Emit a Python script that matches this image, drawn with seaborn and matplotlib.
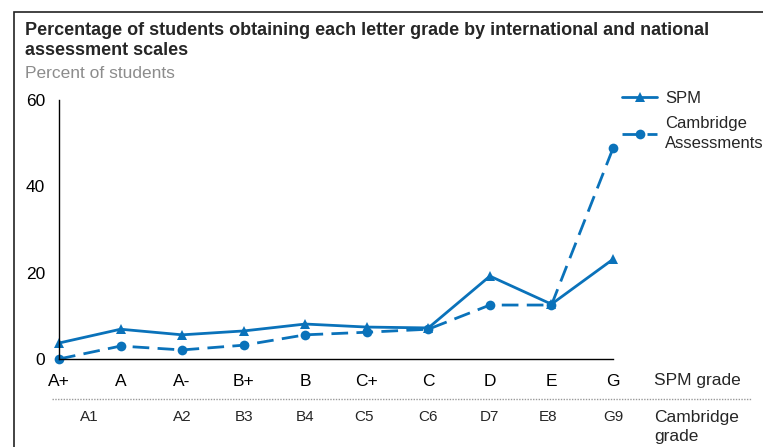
import numpy as np
import pandas as pd
import matplotlib
matplotlib.use("Agg")
import matplotlib.pyplot as plt
import seaborn as sns
from matplotlib.patches import Rectangle

# data
spm_grades = ["A+", "A", "A-", "B+", "B", "C+", "C", "D", "E", "G"]
cambridge_grades = ["A1", "A2", "B3", "B4", "C5", "C6", "D7", "E8", "G9"]
cambridge_label_pos = [0.5, 2, 3, 4, 4.95, 6, 7, 7.95, 9]
spm_pct = [3.7, 6.9, 5.6, 6.5, 8.1, 7.4, 7.2, 19.2, 12.7, 23.1]
cambridge_pct = [0.0, 3.0, 2.1, 3.2, 5.6, 6.2, 6.9, 12.5, 12.5, 48.8]

color = "#0A72BA"

sns.set_style("white")
plt.rcParams["font.family"] = ["Liberation Sans", "DejaVu Sans"]

pos = np.arange(len(spm_grades))
df = pd.concat([
    pd.DataFrame({"pos": pos, "pct": spm_pct, "series": "SPM"}),
    pd.DataFrame({"pos": pos, "pct": cambridge_pct, "series": "Cambridge\nAssessments"}),
])

fig = plt.figure(figsize=(7.63, 4.47), dpi=100)
ax = fig.add_axes([59 / 763, 1 - 359 / 447, (613 - 59) / 763, (359 - 100) / 447])

sns.lineplot(data=df, x="pos", y="pct", hue="series", style="series",
             palette=[color, color],
             markers={"SPM": "^", "Cambridge\nAssessments": "o"},
             dashes={"SPM": "", "Cambridge\nAssessments": (6, 3)},
             markersize=7, markeredgewidth=0, linewidth=2, ax=ax, clip_on=False)

ax.set_xlim(0, len(spm_grades) - 1)
ax.set_ylim(0, 60)
ax.set_yticks([0, 20, 40, 60])
ax.set_xticks(pos)
ax.set_xticklabels(spm_grades)
ax.set_xlabel("")
ax.set_ylabel("")
for s in ["top", "right"]:
    ax.spines[s].set_visible(False)
for s in ["left", "bottom"]:
    ax.spines[s].set_color("black")
    ax.spines[s].set_linewidth(1)
ax.tick_params(axis="both", direction="in", length=5, width=1, color="black",
               labelsize=12.5, pad=10, labelcolor="black")
ax.tick_params(axis="x", pad=11)

# second grade scale under the axis
for lab, p in zip(cambridge_grades, cambridge_label_pos):
    ax.text(p, -13.4, lab, ha="center", va="center", fontsize=11, clip_on=False)
fig.text(654 / 763, 1 - 381 / 447, "SPM grade", fontsize=12.5, va="center")
fig.text(654 / 763, 1 - 427 / 447, "Cambridge\ngrade", fontsize=12.5, va="center",
         linespacing=1.3)
fig.add_artist(plt.Line2D([52 / 763, 752 / 763], [1 - 399 / 447] * 2,
                          color="#999999", linestyle=(0, (1, 1)), linewidth=1))

# legend
h, l = ax.get_legend_handles_labels()
leg = ax.legend(h, l, loc="upper left", bbox_to_anchor=(614 / 763, 1 - 83 / 447),
                bbox_transform=fig.transFigure, frameon=False, fontsize=12,
                handlelength=2.1, handletextpad=0.45, labelspacing=0.6, borderpad=0)
for t in leg.get_texts():
    t.set_linespacing(1.4)

# titles and frame
fig.text(25 / 763, 1 - 22 / 447,
         "Percentage of students obtaining each letter grade by international and national\nassessment scales",
         fontsize=13, fontweight="bold", va="top", linespacing=1.2)
fig.text(25 / 763, 1 - 73 / 447, "Percent of students", fontsize=12.5,
         color="#8C8C8C", va="center")
fig.add_artist(Rectangle((14 / 763, -0.05), 1.0, 1 - 12 / 447 + 0.05,
                         transform=fig.transFigure, fill=False,
                         edgecolor="#222222", linewidth=1.2, clip_on=False))

fig.savefig("out.png", dpi=100)
